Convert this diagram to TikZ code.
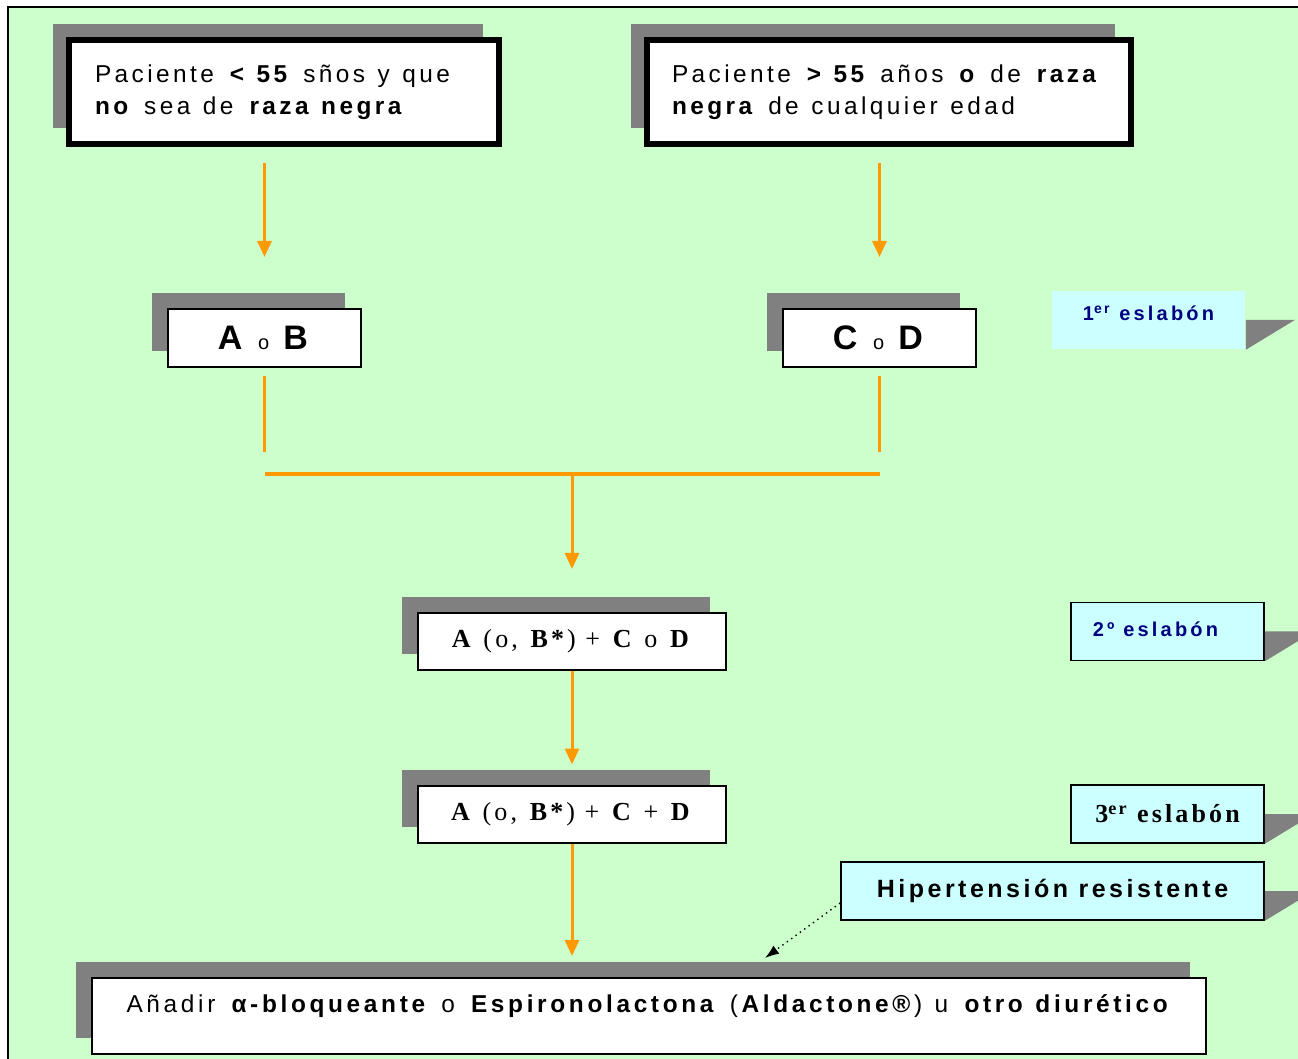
\documentclass[tikz,border=0pt]{standalone}
\usepackage{fontspec}
\usepackage{xcolor,tikz}
\usetikzlibrary{arrows.meta}
\usetikzlibrary{shadows}
\setmainfont[LetterSpace=14]{Liberation Sans}
\newfontfamily\bigfont[LetterSpace=9]{Liberation Sans}
\newfontfamily\addfont[LetterSpace=15,WordSpace=1.2]{Liberation Sans}
\newfontfamily\lblfont[LetterSpace=16]{Liberation Sans}
\newfontfamily\hrfont[LetterSpace=14]{Liberation Sans}
\newfontfamily\tnrfont[LetterSpace=12]{Liberation Serif}
\newfontfamily\tnrwide[LetterSpace=12]{Liberation Serif}
\newcommand\widespace{\spaceskip 6.3pt plus 2pt minus 1pt\relax}
\definecolor{bggreen}{HTML}{CCFFCC}
\definecolor{shgray}{HTML}{808080}
\definecolor{lblcyan}{HTML}{CCFFFF}
\definecolor{arrorange}{HTML}{FF9900}
\definecolor{lblnavy}{HTML}{000080}
\tikzset{
  shbox/.style={draw=black, fill=white, line width=1pt, inner sep=0pt,
    general shadow={fill=shgray, shadow xshift=-8pt, shadow yshift=8pt}},
  bigbox/.style={shbox, line width=3.3pt, minimum height=52pt,
    font=\fontsize{12.2}{16}\selectfont},
  smallbox/.style={shbox, minimum width=96.5pt, minimum height=29pt,
    font=\bigfont\fontsize{17}{17}\selectfont},
  midbox/.style={shbox, minimum width=154pt, minimum height=28.5pt,
    font=\tnrfont\fontsize{13}{13}\selectfont},
  lblbox/.style={draw=black, fill=lblcyan, line width=0.8pt, inner sep=0pt,
    minimum height=29pt},
  orline/.style={draw=arrorange, line width=1.5pt},
  orarrow/.style={orline, -{Triangle[width=7pt,length=8pt]}}
}
\begin{document}
\begin{tikzpicture}[x=0.5pt,y=-0.5pt]
          \useasboundingbox (0,0) rectangle (1298,1059);
          \clip (0,0) rectangle (1298,1059);
          \fill[white] (0,0) rectangle (1298,1059);
          \fill[bggreen] (8,7) rectangle (1310,1070);
          \draw[black, line width=0.8pt] (8,1070) -- (8,7) -- (1310,7);

          \node[bigbox, text width=189pt, inner xsep=13pt] (young) at (284,92)
            {\widespace Paciente \textbf{< 55} sños y que\\ \textbf{no} sea de \textbf{raza negra}};
          \node[bigbox, text width=217pt, inner xsep=12.5pt] (old) at (889,92)
            {\widespace Paciente \textbf{> 55} años \textbf{o} de \textbf{raza}\\ \textbf{negra} de cualquier edad};

          \node[smallbox] (ab) at (264.5,338)
            {\textbf{A} {\fontsize{10}{10}\selectfont o} \textbf{B}};
          \node[smallbox] (cd) at (879.5,338)
            {\textbf{C} {\fontsize{10}{10}\selectfont o} \textbf{D}};

          \node[midbox] (second) at (572,641.5)
            {\textbf{A} (o, \textbf{B*}) + \textbf{C} o \textbf{D}};
          \node[midbox] (third) at (572,814)
            {\textbf{A} (o, \textbf{B*}) + \textbf{C} + \textbf{D}};

          \node[shbox, minimum width=557pt, text height=17pt, text depth=21pt,
            font=\addfont\fontsize{12.2}{14}\selectfont] (add) at (649,1016)
            {Añadir \textbf{α-bloqueante} o \textbf{Espironolactona} (\textbf{Aldactone®}) u \textbf{otro diurético}};

          \node[lblbox, draw=none, minimum width=96.5pt, text=lblnavy, text height=7.5pt, text depth=7pt,
            font=\lblfont\bfseries\fontsize{10}{10}\selectfont] (link1) at (1148.5,320)
            {1\textsuperscript{er} eslabón};
          \node[lblbox, minimum width=96.5pt, text=lblnavy, text height=7.5pt, text depth=2pt,
            font=\lblfont\bfseries\fontsize{10}{10}\selectfont] (link2) at (1167.5,631.5)
            {2º eslabón\kern12pt};
          \node[lblbox, minimum width=96.5pt,
            font=\tnrwide\bfseries\fontsize{13}{13}\selectfont] (link3) at (1167.5,814)
            {3\textsuperscript{er} eslabón};
          \node[lblbox, minimum width=211.5pt,
            font=\hrfont\bfseries\fontsize{12.5}{12.5}\selectfont] (resist) at (1052.5,891)
            {Hipertensión resistente};

          \fill[shgray] (link1.east) -- ++(49,0) -- (link1.south east) -- cycle;
          \fill[shgray] (link2.east) -- ++(49,0) -- (link2.south east) -- cycle;
          \fill[shgray] (link3.east) -- ++(49,0) -- (link3.south east) -- cycle;
          \fill[shgray] (resist.east) -- ++(49,0) -- (resist.south east) -- cycle;

          \coordinate (join) at (572,474);
          \coordinate (hrtip) at (765,958);

          \draw[orarrow, shorten <=8pt, shorten >=25.5pt] (ab |- young.south) -- (ab.north);
          \draw[orarrow, shorten <=8pt, shorten >=25.5pt] (cd |- old.south) -- (cd.north);
          \draw[orline, shorten <=4pt] (ab.south) -- ++(0,84);
          \draw[orline, shorten <=4pt] (cd.south) -- ++(0,84);
          \draw[orline, line width=2pt] (ab |- join) -- (cd |- join);
          \draw[orarrow, shorten >=21.5pt] (join) -- (second.north);
          \draw[orarrow, shorten >=10pt] (second.south) -- (third.north);
          \draw[orarrow, shorten >=10.5pt] (third.south) -- (third.south |- add.north);
          \draw[dotted, line width=0.7pt, -{Latex[length=7pt,width=5pt]}] ([yshift=-6pt]resist.west) -- (hrtip);
        \end{tikzpicture}
\end{document}
